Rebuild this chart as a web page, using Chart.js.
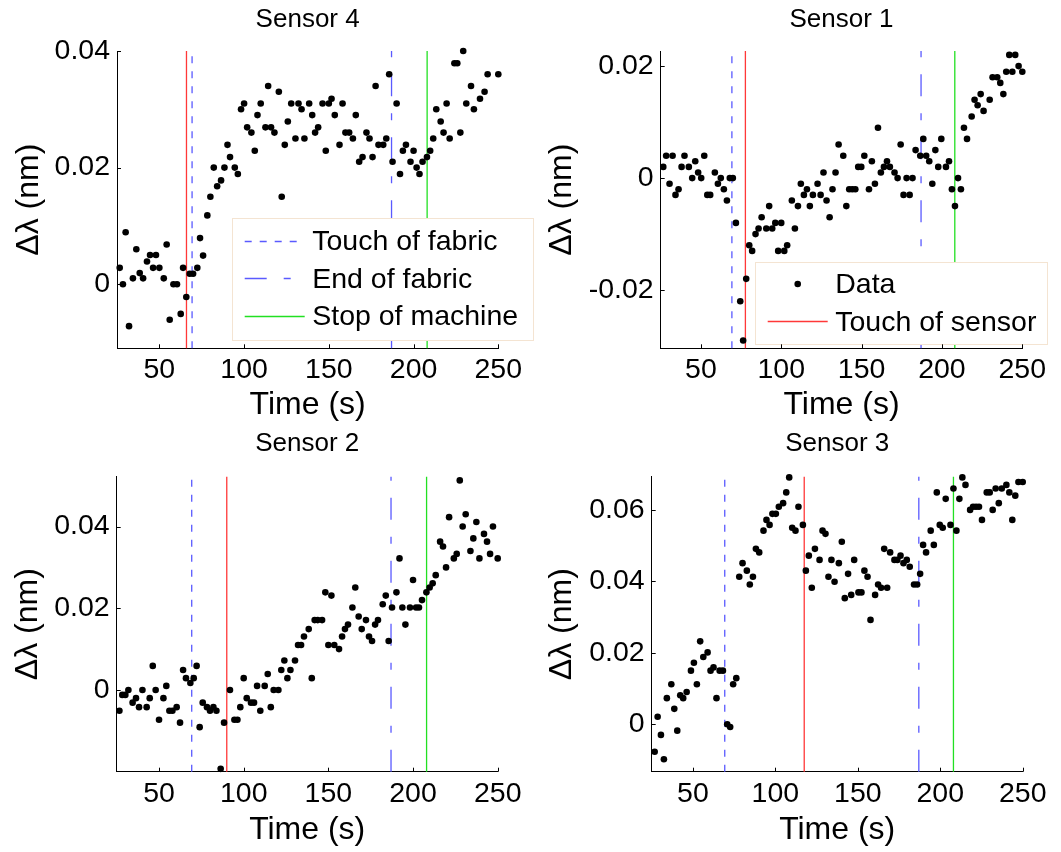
<!DOCTYPE html>
<html>
<head>
<meta charset="utf-8">
<script src="https://cdn.jsdelivr.net/npm/chart.js@4.4.0/dist/chart.umd.min.js"></script>
<style>
html,body{margin:0;padding:0;background:#ffffff;}
body{width:1061px;height:852px;position:relative;overflow:hidden;}
.panel{position:absolute;}
.panel canvas{display:block;}
</style>
</head>
<body>
<div class="panel" style="left:0px;top:0px;width:545px;height:430px"><canvas id="c4" width="545" height="430"></canvas></div>
<div class="panel" style="left:530px;top:0px;width:531px;height:430px"><canvas id="c1" width="531" height="430"></canvas></div>
<div class="panel" style="left:0px;top:410px;width:545px;height:442px"><canvas id="c2" width="545" height="442"></canvas></div>
<div class="panel" style="left:530px;top:410px;width:531px;height:442px"><canvas id="c3" width="531" height="442"></canvas></div>
<script>
// ---------------- DATA ----------------
const xTicks = [50, 100, 150, 200, 250];
const xTickLabels = ['50', '100', '150', '200', '250'];
const xRange = [25, 250];

// event times (s)
const touchOfFabric = 69.3;
const endOfFabric = 187.0;
const stopOfMachine = 208.0;
const touchOfSensor = { s4: 66.0, s1: 77.7, s2: 90.0, s3: 117.5 };

// Sensor 4
const times4 = [26.6,28.5,30.1,32.1,34.4,36.4,38.4,40.4,42.7,44.5,
  46.3,48.0,50.0,52.6,54.3,56.1,58.3,60.4,62.6,64.0,
  65.9,67.9,69.9,72.4,74.0,75.8,78.3,80.1,82.1,84.1,
  86.4,88.4,90.2,91.7,94.5,96.3,98.2,100.0,101.8,104.3,
  106.3,107.9,109.8,112.6,114.2,115.9,117.9,120.5,122.2,124.0,
  125.8,127.8,130.3,132.1,133.9,135.6,138.4,140.2,141.9,143.7,
  146.3,148.2,150.0,151.6,153.5,156.3,158.1,159.8,162.0,164.2,
  165.9,167.9,169.9,172.2,174.0,175.8,177.6,179.3,182.1,183.9,
  185.6,187.6,190.0,192.0,193.7,195.5,198.2,200.0,201.8,203.5,
  205.3,207.9,209.8,211.6,213.4,216.0,217.7,219.5,221.3,224.1,
  225.8,227.6,229.3,231.1,233.9,235.6,239.2,241.9,243.7,250.0];
const values4 = [0.0028,0.0000,0.0089,-0.0072,0.0010,0.0060,0.0019,0.0010,0.0039,0.0050,
  0.0028,0.0050,0.0028,0.0010,0.0068,-0.0061,0.0000,0.0000,-0.0051,0.0028,
  -0.0022,0.0018,0.0018,0.0028,0.0079,0.0049,0.0118,0.0150,0.0200,0.0168,
  0.0178,0.0200,0.0239,0.0218,0.0200,0.0189,0.0300,0.0310,0.0269,0.0260,
  0.0229,0.0290,0.0310,0.0269,0.0340,0.0269,0.0260,0.0330,0.0150,0.0239,
  0.0279,0.0310,0.0250,0.0310,0.0300,0.0250,0.0310,0.0290,0.0260,0.0269,
  0.0310,0.0229,0.0310,0.0318,0.0290,0.0239,0.0310,0.0260,0.0260,0.0250,
  0.0290,0.0210,0.0218,0.0260,0.0250,0.0218,0.0340,0.0239,0.0239,0.0250,
  0.0360,0.0210,0.0310,0.0189,0.0229,0.0239,0.0210,0.0229,0.0200,0.0189,
  0.0210,0.0218,0.0229,0.0250,0.0300,0.0279,0.0260,0.0310,0.0250,0.0379,
  0.0379,0.0260,0.0400,0.0310,0.0340,0.0300,0.0318,0.0330,0.0360,0.0360];
const yTicks4 = [0, 0.02, 0.04];
const yTickLabels4 = ['0', '0.02', '0.04'];
const yRange4 = [-0.011, 0.04];

// Sensor 1
const times1 = [26.6,28.4,30.5,32.4,34.2,36.1,38.0,39.8,42.5,44.6,
  46.5,48.3,50.2,52.1,54.0,55.8,58.7,60.6,62.4,64.3,
  66.2,68.0,69.9,71.8,74.5,76.3,78.2,80.1,81.9,84.0,
  85.9,87.8,90.7,92.5,94.4,96.3,98.1,100.0,101.9,103.7,
  106.6,108.5,110.4,112.2,114.1,116.0,117.8,119.7,122.6,124.5,
  126.3,128.2,130.1,131.9,133.8,135.7,138.6,140.5,142.3,144.2,
  146.1,147.9,149.8,151.7,154.6,156.4,158.3,160.2,162.0,163.9,
  165.8,167.6,170.5,172.4,174.3,176.1,178.0,179.9,181.7,183.6,
  186.5,188.4,190.2,192.1,194.0,195.9,197.7,199.6,202.5,204.4,
  206.2,208.1,210.0,211.8,213.7,215.6,218.5,220.3,222.2,224.1,
  225.9,229.7,231.5,234.4,236.3,238.2,240.0,241.9,243.8,245.6,
  247.7,250.0];
const values1 = [0.002,0.004,-0.001,0.004,-0.003,-0.002,0.002,0.004,0.002,0.000,
  0.003,0.001,0.000,0.004,-0.003,-0.003,0.001,-0.001,0.000,-0.002,
  -0.004,0.000,0.000,-0.008,-0.022,-0.029,-0.018,-0.012,-0.013,-0.010,
  -0.009,-0.007,-0.009,-0.005,-0.009,-0.008,-0.013,-0.008,-0.013,-0.012,
  -0.004,-0.009,-0.005,-0.001,-0.003,-0.002,-0.005,-0.003,-0.001,-0.003,
  0.001,-0.004,-0.007,-0.002,0.001,0.006,0.004,-0.005,-0.002,-0.002,
  -0.002,0.002,0.002,0.004,-0.002,0.003,-0.001,0.009,0.001,0.002,
  0.003,0.002,0.001,0.000,0.006,-0.003,0.000,-0.003,0.000,0.005,
  0.004,0.007,0.004,0.003,-0.001,0.005,0.002,0.007,0.002,0.003,
  -0.002,-0.005,0.000,-0.002,0.009,0.007,0.011,0.014,0.013,0.015,
  0.012,0.014,0.018,0.018,0.017,0.015,0.019,0.022,0.019,0.022,
  0.020,0.019];
const yTicks1 = [-0.02, 0, 0.02];
const yTickLabels1 = ['-0.02', '0', '0.02'];
const yRange1 = [-0.0304, 0.0227];

// Sensor 2
const times2 = [26.6,28.3,30.1,31.9,34.4,36.4,38.2,40.2,42.7,44.5,
  46.3,48.0,50.0,52.6,54.3,56.1,57.9,60.4,62.4,64.2,
  65.9,68.5,70.5,72.2,74.0,75.8,78.3,80.1,82.1,83.9,
  86.4,88.4,91.9,94.5,96.3,98.0,100.0,101.8,104.3,106.1,
  107.9,109.8,112.4,114.2,116.0,117.7,120.5,122.2,124.0,125.8,
  127.6,130.3,132.1,133.9,135.6,138.4,140.2,141.9,143.7,146.3,
  148.2,150.0,151.8,153.5,156.3,158.1,159.8,161.6,164.2,165.9,
  167.9,169.7,172.2,174.0,175.8,177.6,179.3,182.1,183.9,185.6,
  187.6,190.2,192.0,193.7,195.5,198.2,200.0,201.8,203.5,205.3,
  207.9,209.8,211.6,213.4,216.0,217.7,219.5,221.3,224.1,225.8,
  227.6,229.3,231.1,233.9,235.6,237.4,239.2,241.9,243.7,245.5,
  247.2,250.0];
const values2 = [-0.0051,-0.0012,-0.0012,0.0000,-0.0031,-0.0020,-0.0042,0.0000,-0.0042,-0.0020,
  0.0059,0.0000,-0.0073,-0.0020,0.0010,-0.0051,-0.0051,-0.0042,-0.0080,0.0049,
  0.0029,0.0017,0.0029,0.0059,-0.0091,-0.0031,-0.0042,-0.0051,-0.0042,-0.0051,
  -0.0193,-0.0080,0.0000,-0.0073,-0.0073,-0.0042,0.0029,-0.0020,-0.0031,-0.0031,
  0.0010,-0.0051,0.0010,0.0039,-0.0042,0.0000,0.0000,0.0049,0.0072,0.0029,
  0.0049,0.0072,0.0110,0.0110,0.0131,0.0149,0.0029,0.0171,0.0171,0.0171,
  0.0239,0.0110,0.0231,0.0110,0.0100,0.0131,0.0149,0.0160,0.0202,0.0251,
  0.0180,0.0149,0.0171,0.0131,0.0120,0.0160,0.0171,0.0210,0.0231,0.0120,
  0.0202,0.0239,0.0322,0.0202,0.0160,0.0202,0.0269,0.0202,0.0202,0.0220,
  0.0239,0.0251,0.0261,0.0281,0.0363,0.0351,0.0300,0.0423,0.0322,0.0333,
  0.0513,0.0400,0.0430,0.0340,0.0371,0.0411,0.0322,0.0382,0.0363,0.0333,
  0.0400,0.0322];
const yTicks2 = [0, 0.02, 0.04];
const yTickLabels2 = ['0', '0.02', '0.04'];
const yRange2 = [-0.02, 0.0522];

// Sensor 3
const times3 = [26.8,28.6,30.6,32.4,34.2,36.9,38.7,40.5,42.3,44.1,
  46.2,48.8,50.6,52.4,54.4,56.3,58.9,60.7,62.5,64.3,
  66.2,68.2,70.8,72.6,74.4,76.3,78.1,80.1,82.7,84.5,
  86.4,88.2,90.2,92.8,94.6,96.5,98.2,100.3,102.1,104.7,
  106.6,108.4,110.2,112.2,114.0,116.7,118.5,120.3,122.1,124.0,
  126.8,128.6,130.4,132.2,134.0,135.9,138.5,140.3,142.1,144.1,
  146.0,147.8,150.4,152.2,154.0,155.9,157.7,160.5,162.3,164.1,
  166.0,167.8,169.6,172.2,174.0,175.9,177.7,179.7,181.5,184.1,
  186.0,187.8,189.6,191.4,194.2,196.1,197.9,199.7,201.5,203.3,
  206.2,208.0,209.8,211.6,213.4,215.3,218.1,219.9,221.7,223.5,
  225.3,228.2,230.0,231.8,233.6,235.5,237.3,240.1,241.9,243.7,
  245.5,247.4,250.0];
const values3 = [-0.0077,0.0021,-0.0030,-0.0098,0.0073,0.0112,0.0043,-0.0018,0.0081,0.0073,
  0.0090,0.0150,0.0172,0.0112,0.0232,0.0188,0.0201,0.0150,0.0159,0.0073,
  0.0150,0.0150,0.0000,-0.0008,0.0112,0.0129,0.0413,0.0451,0.0430,0.0391,
  0.0413,0.0491,0.0481,0.0542,0.0572,0.0558,0.0589,0.0589,0.0609,0.0619,
  0.0649,0.0691,0.0550,0.0542,0.0609,0.0558,0.0430,0.0472,0.0382,0.0491,
  0.0460,0.0542,0.0533,0.0413,0.0460,0.0399,0.0451,0.0511,0.0353,0.0421,
  0.0362,0.0460,0.0369,0.0369,0.0430,0.0413,0.0292,0.0362,0.0391,0.0382,
  0.0491,0.0382,0.0481,0.0460,0.0460,0.0472,0.0451,0.0460,0.0441,0.0391,
  0.0391,0.0421,0.0502,0.0481,0.0542,0.0502,0.0649,0.0558,0.0550,0.0631,
  0.0558,0.0660,0.0542,0.0631,0.0691,0.0670,0.0600,0.0609,0.0609,0.0609,
  0.0572,0.0649,0.0649,0.0600,0.0660,0.0619,0.0660,0.0670,0.0649,0.0572,
  0.0640,0.0678,0.0678];
const yTicks3 = [0, 0.02, 0.04, 0.06];
const yTickLabels3 = ['0', '0.02', '0.04', '0.06'];
const yRange3 = [-0.0133, 0.0693];

// ---------------- STYLE ----------------
const FONT = "'Liberation Sans', Arial, Helvetica, sans-serif";
const BLUE = '#5a5aff';
const RED = '#ff3838';
const GREEN = '#22e022';
Chart.defaults.color = '#000';
Chart.defaults.font.family = FONT;

const inwardTicks = {
  id: 'inwardTicks',
  afterDraw(chart) {
    const { ctx, chartArea: a, scales: { x, y } } = chart;
    ctx.save();
    ctx.strokeStyle = '#000';
    ctx.lineWidth = 1;
    ctx.beginPath();
    x.ticks.forEach(t => {
      const px = Math.round(x.getPixelForValue(t.value)) + 0.5;
      ctx.moveTo(px, a.bottom); ctx.lineTo(px, a.bottom - 4);
    });
    y.ticks.forEach(t => {
      const py = Math.round(y.getPixelForValue(t.value)) + 0.5;
      ctx.moveTo(a.left, py); ctx.lineTo(a.left + 4, py);
    });
    ctx.stroke();
    ctx.restore();
  }
};

function makeLegendPlugin(lg) {
  return {
    id: 'panelLegend',
    afterDatasetsDraw(chart) {
      if (!lg) return;
      const ctx = chart.ctx;
      ctx.save();
      ctx.fillStyle = '#fff';
      ctx.fillRect(lg.x, lg.y, lg.w, lg.h);
      ctx.strokeStyle = '#f4e4d2';
      ctx.lineWidth = 1;
      ctx.strokeRect(Math.round(lg.x) + 0.5, Math.round(lg.y) + 0.5, Math.round(lg.w), Math.round(lg.h));
      ctx.font = '28.5px ' + FONT;
      ctx.textBaseline = 'middle';
      ctx.textAlign = 'left';
      lg.items.forEach((di, i) => {
        const ds = chart.data.datasets[di];
        const cy = lg.y + lg.firstRow + i * lg.rowStep;
        if (ds.showLine) {
          ctx.strokeStyle = ds.borderColor;
          ctx.lineWidth = ds.borderWidth;
          ctx.setLineDash(ds.borderDash || []);
          ctx.beginPath();
          ctx.moveTo(lg.x + 13, Math.round(cy) + 0.5);
          ctx.lineTo(lg.x + 73, Math.round(cy) + 0.5);
          ctx.stroke();
          ctx.setLineDash([]);
        } else {
          ctx.fillStyle = ds.pointBackgroundColor;
          ctx.beginPath();
          ctx.arc(lg.x + 43, cy, ds.pointRadius, 0, Math.PI * 2);
          ctx.fill();
        }
        ctx.fillStyle = '#000';
        ctx.fillText(ds.label, lg.x + 80.5, cy + 1.5);
      });
      ctx.restore();
    }
  };
}

function vline(t, yr) {
  return [{ x: t, y: yr[0] }, { x: t, y: yr[1] }];
}

function makeChart(id, p) {
  const pts = p.times.map((t, i) => ({ x: t, y: p.values[i] }));
  const lineDs = (label, t, color, dash) => ({
    label, data: vline(t, p.yRange), showLine: true, borderColor: color,
    borderWidth: 1.3, borderDash: dash, pointRadius: 0, fill: false, clip: false
  });
  new Chart(document.getElementById(id), {
    type: 'scatter',
    data: {
      datasets: [
        { label: 'Data', data: pts, pointRadius: 3.3, pointBackgroundColor: '#000',
          pointBorderWidth: 0, borderColor: '#000', showLine: false, clip: false },
        lineDs('Touch of sensor', p.touch, RED, []),
        lineDs('Touch of fabric', touchOfFabric, BLUE, [7, 8]),
        lineDs('End of fabric', endOfFabric, BLUE, [22, 17, 7, 17]),
        lineDs('Stop of machine', stopOfMachine, GREEN, [])
      ]
    },
    options: {
      responsive: false,
      animation: false,
      events: [],
      devicePixelRatio: 1,
      layout: { padding: { left: 0, right: p.padRight, top: 0, bottom: 0 } },
      plugins: {
        legend: { display: false },
        tooltip: { enabled: false },
        title: {
          display: true, text: p.title, fullSize: false, color: '#000',
          font: { size: 26, weight: 'normal', family: FONT, lineHeight: 1.2 },
          padding: { top: p.titleTop, bottom: p.titleBottom }
        }
      },
      scales: {
        x: {
          type: 'linear', min: xRange[0], max: xRange[1],
          grid: { display: false, drawTicks: false },
          border: { display: true, color: '#000', width: 1 },
          afterBuildTicks: s => { s.ticks = xTicks.map(v => ({ value: v })); },
          afterFit: s => { s.height = p.xHeight; },
          ticks: {
            autoSkip: false, maxRotation: 0, padding: 5, color: '#000',
            font: { size: 28.5, family: FONT, lineHeight: 1.2 },
            callback: (v, i) => xTickLabels[i]
          },
          title: {
            display: true, text: 'Time (s)', color: '#000',
            font: { size: 32, family: FONT, lineHeight: 1.2 },
            padding: { top: 0, bottom: p.xTitlePad }
          }
        },
        y: {
          type: 'linear', min: p.yRange[0], max: p.yRange[1],
          grid: { display: false, drawTicks: false },
          border: { display: true, color: '#000', width: 1 },
          afterBuildTicks: s => { s.ticks = p.yTicks.map(v => ({ value: v })); },
          afterFit: s => { s.width = p.yWidth; },
          ticks: {
            autoSkip: false, padding: 7, color: '#000',
            font: { size: 28.5, family: FONT, lineHeight: 1.2 },
            callback: (v, i) => p.yTickLabels[i]
          },
          title: {
            display: true, text: 'Δλ (nm)', color: '#000',
            font: { size: 32, family: FONT, lineHeight: 1.2 },
            padding: { top: p.yTitlePad, bottom: 0 }
          }
        }
      }
    },
    plugins: [makeLegendPlugin(p.legend), inwardTicks]
  });
}

makeChart('c4', {
  title: 'Sensor 4', times: times4, values: values4, yTicks: yTicks4, yTickLabels: yTickLabels4,
  yRange: yRange4, touch: touchOfSensor.s4,
  padRight: 46.7, yWidth: 117, xHeight: 81.7, titleTop: 3.9, titleBottom: 15.9,
  xTitlePad: 5.8, yTitlePad: 9.8,
  legend: { x: 231.7, y: 218.3, w: 300.6, h: 121.7, firstRow: 22.4, rowStep: 37.6, items: [2, 3, 4] }
});
makeChart('c1', {
  title: 'Sensor 1', times: times1, values: values1, yTicks: yTicks1, yTickLabels: yTickLabels1,
  yRange: yRange1, touch: touchOfSensor.s1,
  padRight: 38.7, yWidth: 130.7, xHeight: 81.7, titleTop: 3.9, titleBottom: 15.9,
  xTitlePad: 5.8, yTitlePad: 12.5,
  legend: { x: 224.7, y: 262, w: 292.3, h: 82, firstRow: 22, rowStep: 37.3, items: [0, 1] }
});
makeChart('c2', {
  title: 'Sensor 2', times: times2, values: values2, yTicks: yTicks2, yTickLabels: yTickLabels2,
  yRange: yRange2, touch: touchOfSensor.s2,
  padRight: 47.3, yWidth: 116.7, xHeight: 80.3, titleTop: 18.4, titleBottom: 17.1,
  xTitlePad: 2.8, yTitlePad: 9.3,
  legend: null
});
makeChart('c3', {
  title: 'Sensor 3', times: times3, values: values3, yTicks: yTicks3, yTickLabels: yTickLabels3,
  yRange: yRange3, touch: touchOfSensor.s3,
  padRight: 38.3, yWidth: 121.7, xHeight: 80.3, titleTop: 18.4, titleBottom: 17.1,
  xTitlePad: 2.8, yTitlePad: 12.5,
  legend: null
});
</script>
</body>
</html>
